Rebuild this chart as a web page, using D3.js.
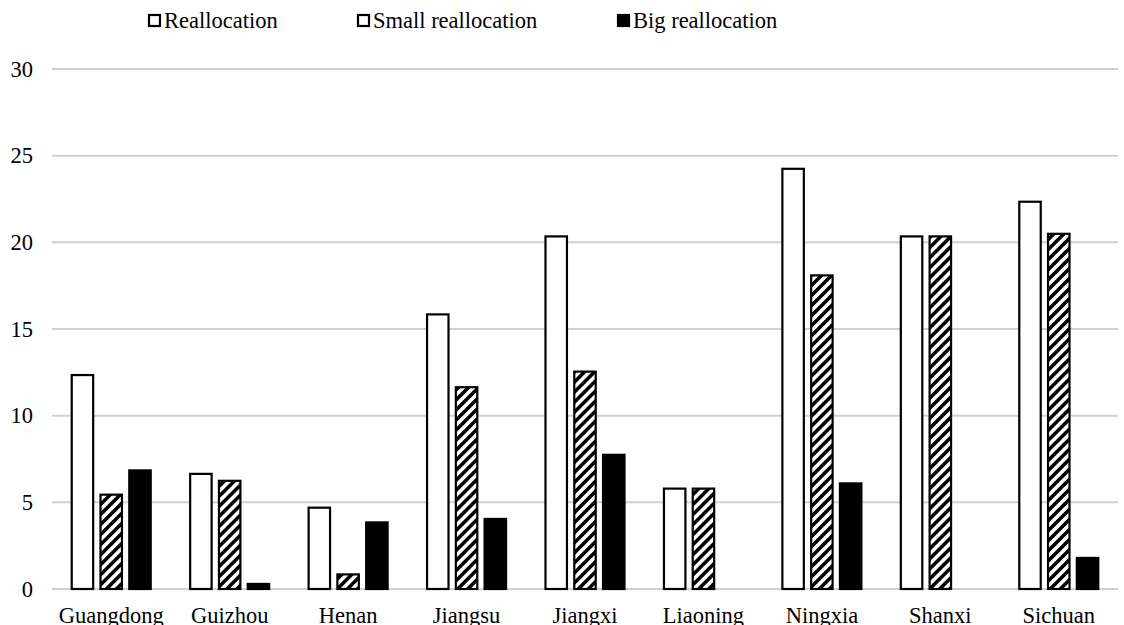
<!DOCTYPE html>
<html><head><meta charset="utf-8">
<script src="https://cdn.jsdelivr.net/npm/d3@7"></script>
<style>body{margin:0;background:#fff}svg{display:block}</style>
</head><body>
<svg id="c" width="1124" height="625"></svg>
<script>
const categories = ["Guangdong","Guizhou","Henan","Jiangsu","Jiangxi","Liaoning","Ningxia","Shanxi","Sichuan"];
const seriesNames = ["Reallocation","Small reallocation","Big reallocation"];
const reallocation = [12.4, 6.7, 4.75, 15.9, 20.4, 5.85, 24.3, 20.4, 22.4];
const smallReallocation = [5.5, 6.3, 0.9, 11.7, 12.6, 5.85, 18.15, 20.4, 20.55];
const bigReallocation = [6.9, 0.35, 3.9, 4.1, 7.8, 0, 6.15, 0, 1.85];
const yTicks = [0, 5, 10, 15, 20, 25, 30];

(function(){
const svg = d3.select("#c");
const font = "'Liberation Serif', 'Times New Roman', serif";
const fs = 22.5;
const pLeft = 52, pRight = 1118, pTop = 69, pBottom = 589;

const defs = svg.append("defs");
const P = 7.1;
const pat = defs.append("pattern").attr("id","hatch").attr("patternUnits","userSpaceOnUse")
  .attr("width",P).attr("height",P).attr("patternTransform","rotate(45)");
pat.append("rect").attr("width",P).attr("height",P).attr("fill","#fff");
pat.append("line").attr("x1",P/4).attr("x2",P/4).attr("y1",0).attr("y2",P)
  .attr("stroke","#000").attr("stroke-width",P/2);

const x = d3.scaleBand().domain(categories).range([pLeft, pRight]);
const y = d3.scaleLinear().domain([0, 30]).range([pBottom, pTop]);
const xs = d3.scaleBand().domain(seriesNames).range([-40.5, 40.5]).paddingInner(0.185);

// gridlines
svg.append("g").selectAll("line").data(yTicks).join("line")
  .attr("x1", pLeft).attr("x2", pRight)
  .attr("y1", d => y(d)).attr("y2", d => y(d))
  .attr("stroke", "#d0d0d0").attr("stroke-width", 2);

// y axis labels
const yAxis = d3.axisLeft(y).tickValues(yTicks).tickSize(0).tickPadding(0);
const ya = svg.append("g").attr("transform", "translate(33,0)").call(yAxis)
  .attr("font-family", null).attr("font-size", null);
ya.select(".domain").remove();
ya.selectAll("text").style("font-family", font).style("font-size", fs + "px").attr("fill", "#000");

// x axis labels
const xa = svg.append("g").attr("transform", `translate(0,${pBottom})`)
  .call(d3.axisBottom(x).tickSize(0).tickPadding(0))
  .attr("font-family", null).attr("font-size", null);
xa.select(".domain").remove();
xa.selectAll("text").style("font-family", font).style("font-size", fs + "px").attr("fill", "#000")
  .attr("dy", null).attr("y", 34);

const data = [reallocation, smallReallocation, bigReallocation];
const fills = ["#fff", "url(#hatch)", "#000"];

data.forEach((vals, si) => {
  svg.append("g").selectAll("rect").data(vals.map((v, i) => ({c: categories[i], v})).filter(d => d.v > 0))
    .join("rect")
    .attr("x", d => x(d.c) + x.bandwidth()/2 + xs(seriesNames[si]) + 1)
    .attr("width", xs.bandwidth() - 2)
    .attr("y", d => y(d.v) + 1)
    .attr("height", d => Math.max(0, y(0) - y(d.v) - 1))
    .attr("fill", fills[si])
    .attr("stroke", "#000").attr("stroke-width", 2.2);
});

// legend
const legendX = [149, 358, 618];
const lg = svg.append("g");
seriesNames.forEach((n, i) => {
  lg.append("rect").attr("x", legendX[i]).attr("y", 15).attr("width", 11).attr("height", 11)
    .attr("fill", i === 2 ? "#000" : "#fff").attr("stroke", "#000").attr("stroke-width", 2.2);
  lg.append("text").attr("x", legendX[i] + 15).attr("y", 28)
    .style("font-family", font).style("font-size", fs + "px").text(n);
});
})();
</script>
</body></html>
